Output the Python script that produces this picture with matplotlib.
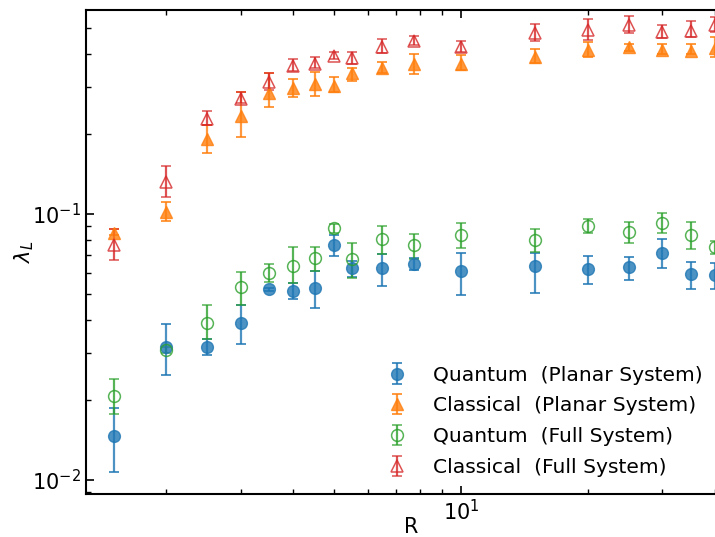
import numpy as np
import matplotlib
matplotlib.use("Agg")
import matplotlib.pyplot as plt

# Separation values R
R = [1.5, 2, 2.5, 3, 3.5, 4, 4.5, 5, 5.5, 6.5, 7.75, 10, 15, 20, 25, 30, 35, 40]

# Quantum, planar system: value, lower bound, upper bound
qp_val = [0.0147, 0.0317, 0.0317, 0.0388, 0.0521, 0.0514, 0.0528, 0.0764, 0.0628, 0.0625, 0.0649, 0.0611, 0.0637, 0.0621, 0.0630, 0.0715, 0.0593, 0.0590]
qp_lo  = [0.0107, 0.0249, 0.0294, 0.0324, 0.0513, 0.0478, 0.0445, 0.0695, 0.0580, 0.0536, 0.0616, 0.0496, 0.0506, 0.0544, 0.0565, 0.0625, 0.0521, 0.0521]
qp_hi  = [0.0187, 0.0385, 0.0339, 0.0455, 0.0529, 0.0552, 0.0611, 0.0834, 0.0665, 0.0705, 0.0681, 0.0715, 0.0715, 0.0697, 0.0691, 0.0803, 0.0662, 0.0656]

# Classical, planar system
cp_val = [0.0851, 0.102, 0.191, 0.233, 0.286, 0.297, 0.308, 0.304, 0.338, 0.355, 0.366, 0.368, 0.390, 0.4135, 0.424, 0.4135, 0.411, 0.422]
cp_lo  = [0.0834, 0.0944, 0.169, 0.195, 0.253, 0.275, 0.278, 0.288, 0.317, 0.340, 0.336, 0.348, 0.371, 0.388, 0.410, 0.398, 0.398, 0.390]
cp_hi  = [0.0878, 0.111, 0.216, 0.288, 0.338, 0.322, 0.341, 0.327, 0.353, 0.374, 0.398, 0.396, 0.417, 0.445, 0.437, 0.434, 0.434, 0.4616]

# Quantum, full system
qf_val = [0.0207, 0.0308, 0.0388, 0.0530, 0.0598, 0.0640, 0.0681, 0.0883, 0.0678, 0.0803, 0.0764, 0.0834, 0.0798, 0.0903, 0.0853, 0.0927, 0.0834, 0.0753]
qf_lo  = [0.01766, 0.0300, 0.0339, 0.0455, 0.0557, 0.0549, 0.0611, 0.0846, 0.0577, 0.0705, 0.0678, 0.0743, 0.0718, 0.0846, 0.0780, 0.0846, 0.0737, 0.0708]
qf_hi  = [0.0239, 0.0316, 0.0455, 0.0604, 0.0647, 0.0753, 0.0749, 0.0917, 0.0780, 0.0903, 0.0841, 0.0923, 0.0881, 0.0958, 0.0935, 0.1006, 0.0935, 0.0794]

# Classical, full system
cf_val = [0.0765, 0.132, 0.2275, 0.270, 0.313, 0.360, 0.368, 0.394, 0.385, 0.424, 0.449, 0.426, 0.478, 0.492, 0.5135, 0.482, 0.489, 0.5135]
cf_lo  = [0.0671, 0.1156, 0.216, 0.261, 0.292, 0.346, 0.353, 0.382, 0.368, 0.404, 0.432, 0.407, 0.449, 0.451, 0.478, 0.461, 0.464, 0.484]
cf_hi  = [0.0878, 0.152, 0.2445, 0.288, 0.340, 0.382, 0.388, 0.405, 0.407, 0.454, 0.467, 0.449, 0.516, 0.541, 0.557, 0.5135, 0.532, 0.549]

labels = ["Quantum  (Planar System)", "Classical  (Planar System)",
          "Quantum  (Full System)", "Classical  (Full System)"]

fig = plt.figure(figsize=(7.15, 5.37), dpi=100)
ax = fig.add_axes([86 / 715, 43 / 537, 651 / 715, 484 / 537])


def draw(val, lo, hi, color, marker, filled, label):
    val = np.asarray(val)
    yerr = [val - np.asarray(lo), np.asarray(hi) - val]
    kw = dict(fmt=marker, color=color, ecolor=color, markersize=8.5,
              elinewidth=1.6, capsize=3.5, capthick=1.4, alpha=0.8, label=label)
    if filled:
        kw.update(markerfacecolor=color, markeredgecolor=color)
    else:
        kw.update(markerfacecolor="none", markeredgecolor=color, markeredgewidth=1.1)
    return ax.errorbar(R, val, yerr=yerr, **kw)


draw(qp_val, qp_lo, qp_hi, "#1f77b4", "o", True, labels[0])
draw(cp_val, cp_lo, cp_hi, "#ff7f0e", "^", True, labels[1])
draw(qf_val, qf_lo, qf_hi, "#2ca02c", "o", False, labels[2])
draw(cf_val, cf_lo, cf_hi, "#d62728", "^", False, labels[3])

ax.set_xscale("log")
ax.set_yscale("log")
ax.set_xlim(1.29, 45.1)
ax.set_ylim(0.00886, 0.585)

ax.tick_params(which="both", direction="in", top=True, right=True, labelsize=15)
ax.tick_params(which="major", length=6, width=1.2)
ax.tick_params(which="minor", length=3.5, width=1.0)
for s in ax.spines.values():
    s.set_linewidth(1.5)

ax.set_xlabel("R", fontsize=15, labelpad=-5)
ax.set_ylabel(r"$\lambda_L$", fontsize=15, labelpad=-3)

ax.legend(loc="lower right", bbox_to_anchor=(711 / 715, 52 / 537),
          bbox_transform=fig.transFigure, frameon=False, fontsize=14.6,
          borderaxespad=0, labelspacing=0.58)

fig.savefig("out.png", dpi=100)
